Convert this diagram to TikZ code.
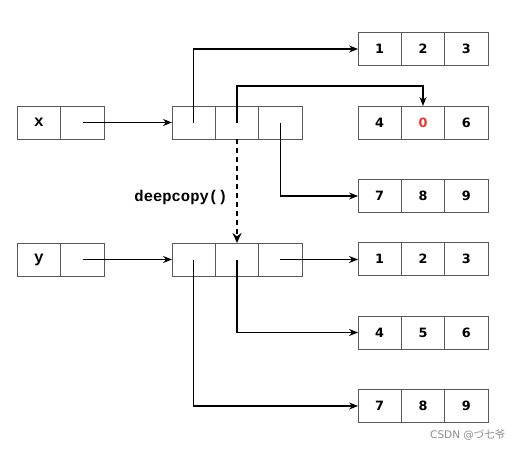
\documentclass[tikz,border=0pt]{standalone}
\usepackage{fontspec}
\setmainfont{DejaVu Sans}
\newfontfamily\monob{Liberation Mono}
\newfontfamily\cjk{Noto Sans CJK SC}
\usetikzlibrary{arrows.meta}
\begin{document}
\begin{tikzpicture}[x=1pt,y=-1pt,
  cell/.style={draw=black!65, line width=0.9pt, minimum width=43.3pt, minimum height=33pt, inner sep=0pt, outer sep=0pt, font=\bfseries\fontsize{12.8}{14}\selectfont},
  varcell/.style={cell, font=\monob\bfseries\fontsize{16}{18}\selectfont},
  conn/.style={line width=1.1pt, -{Stealth[length=9pt,width=7pt]}},
  lnk/.style={line width=1.1pt}]
\useasboundingbox (0,0) rectangle (523,450);
% x variable
\node[varcell] (xn) at (39,122.5) {x};
\node[cell] (xv) at (82.5,122.5) {};
% x list
\node[cell] (xm1) at (193.7,122.5) {};
\node[cell] (xm2) at (237,122.5) {};
\node[cell] (xm3) at (280.3,122.5) {};
% top right lists
\node[cell] (r1a) at (379.7,49) {1};
\node[cell] (r1b) at (423,49) {2};
\node[cell] (r1c) at (466.3,49) {3};
\node[cell] (r2a) at (379.7,122.5) {4};
\node[cell] (r2b) at (423,122.5) {\color[HTML]{E53935}0};
\node[cell] (r2c) at (466.3,122.5) {6};
\node[cell] (r3a) at (379.7,196) {7};
\node[cell] (r3b) at (423,196) {8};
\node[cell] (r3c) at (466.3,196) {9};
% y variable
\node[varcell] (yn) at (39,259.5) {y};
\node[cell] (yv) at (82.5,259.5) {};
% y list
\node[cell] (ym1) at (193.7,259.5) {};
\node[cell] (ym2) at (237,259.5) {};
\node[cell] (ym3) at (280.3,259.5) {};
% bottom right lists
\node[cell] (s1a) at (379.7,259) {1};
\node[cell] (s1b) at (423,259) {2};
\node[cell] (s1c) at (466.3,259) {3};
\node[cell] (s2a) at (379.7,332.5) {4};
\node[cell] (s2b) at (423,332.5) {5};
\node[cell] (s2c) at (466.3,332.5) {6};
\node[cell] (s3a) at (379.7,406) {7};
\node[cell] (s3b) at (423,406) {8};
\node[cell] (s3c) at (466.3,406) {9};
% connectors for x
\draw[conn] (xv.center) -- (xm1.west);
\draw[conn] (xm1.center) |- (r1a.west);
\coordinate (bend) at (237,86);
\draw[conn] (xm2.center) -- (bend) -| (r2b.north);
\draw[conn] (xm3.center) |- (r3a.west);
% deepcopy
\draw[line width=2pt, dash pattern=on 5pt off 4pt, -{Stealth[length=10pt,width=9pt]}] (xm2.south) -- (ym2.north);
\node[font=\monob\bfseries\fontsize{15.5}{18}\selectfont, anchor=east] (dc) at (231,197) {deepcopy()};
% connectors for y
\draw[conn] (yv.center) -- (ym1.west);
\draw[conn] (ym1.center) |- (s3a.west);
\draw[conn] (ym2.center) |- (s2a.west);
\draw[conn] (ym3.center) -- (s1a.west |- ym3.center);
% watermark
\node[text=black!45, font=\fontsize{10.5}{12}\selectfont, anchor=east] (wm) at (509,435) {CSDN @{\cjk づ七爷}};
\end{tikzpicture}
\end{document}
